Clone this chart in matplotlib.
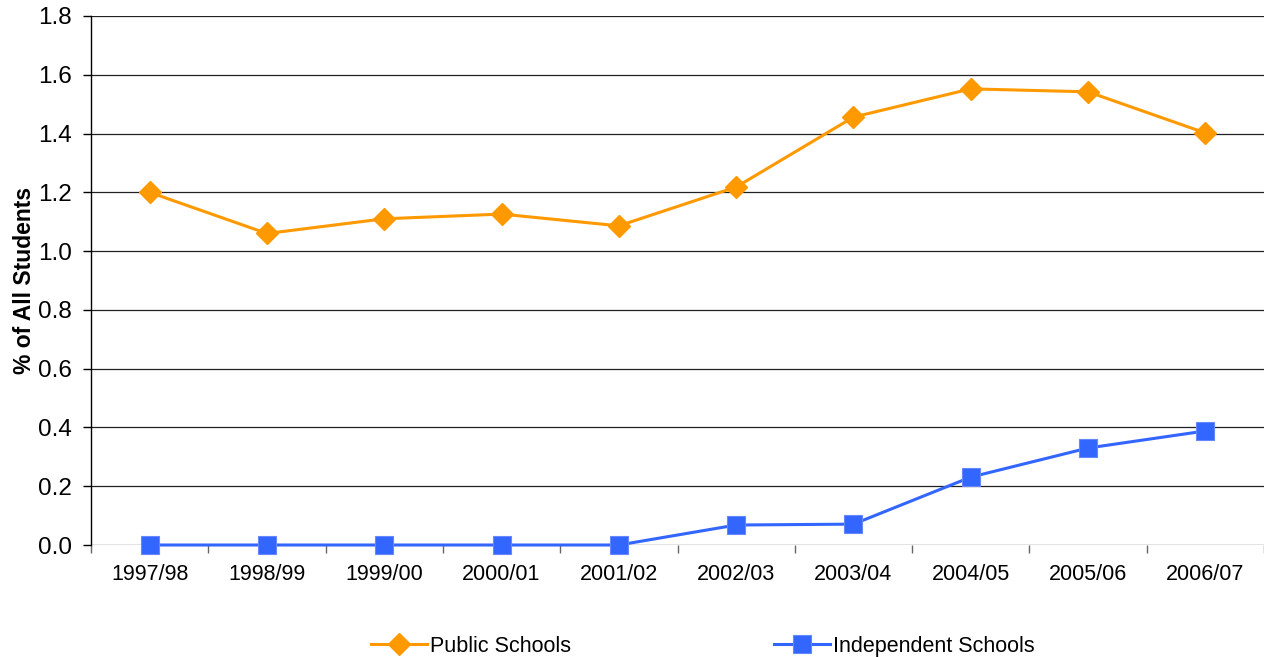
import matplotlib
matplotlib.use("Agg")
import matplotlib.pyplot as plt
import numpy as np

categories = ["1997/98", "1998/99", "1999/00", "2000/01", "2001/02",
              "2002/03", "2003/04", "2004/05", "2005/06", "2006/07"]
public_schools = [1.20, 1.06, 1.11, 1.126, 1.086, 1.218, 1.456, 1.552, 1.542, 1.402]
independent_schools = [0.0, 0.0, 0.0, 0.0, 0.0, 0.068, 0.071, 0.231, 0.330, 0.388]
y_ticks = [0.0, 0.2, 0.4, 0.6, 0.8, 1.0, 1.2, 1.4, 1.6, 1.8]

plt.rcParams['font.family'] = ['Liberation Sans', 'DejaVu Sans']

fig = plt.figure(figsize=(12.64, 6.57), dpi=100)
ax = fig.add_axes([91/1264, 1 - 545/657, 1 - 91/1264, (545 - 16)/657])

x = np.arange(len(categories))
ax.plot(x, public_schools, color="#FF9900", lw=2.2, marker="D", markersize=11,
        markeredgecolor="#FF9900", label="Public Schools", zorder=3, clip_on=False)
ax.plot(x, independent_schools, color="#3366FF", lw=2.2, marker="s", markersize=13,
        markeredgecolor="#6688FF", markeredgewidth=0.8, label="Independent Schools",
        zorder=3, clip_on=False)

ax.set_xlim(-0.5, len(categories) - 0.5)
ax.set_ylim(0, 1.8)
ax.set_yticks(y_ticks)
ax.set_yticklabels([f"{v:.1f}" for v in y_ticks], fontsize=17.5)
ax.yaxis.grid(True, color="#222222", lw=0.9)
ax.set_axisbelow(True)

ax.set_xticks(x)
ax.set_xticklabels(categories, fontsize=15.5)
ax.set_xticks(np.arange(len(categories) + 1) - 0.5, minor=True)
ax.tick_params(axis="x", which="major", length=0, pad=14)
ax.tick_params(axis="x", which="minor", length=6, width=1, color="#666666")
ax.tick_params(axis="y", length=6, width=1, pad=8, color="black")

for s in ["top", "right", "bottom"]:
    ax.spines[s].set_visible(False)
ax.spines["left"].set_color("black")
ax.spines["left"].set_linewidth(1)

ax.set_ylabel("% of All Students", fontsize=16.5, fontweight="bold")
ax.yaxis.set_label_coords(-(91 - 36) / (1264 - 91), 0.5)

fig.legend(loc="center", bbox_to_anchor=(0.556, 0.016), ncol=2, frameon=False,
           fontsize=15.5, handlelength=2.6, handletextpad=0.15, columnspacing=9.45)

fig.savefig("out.png", dpi=100)
